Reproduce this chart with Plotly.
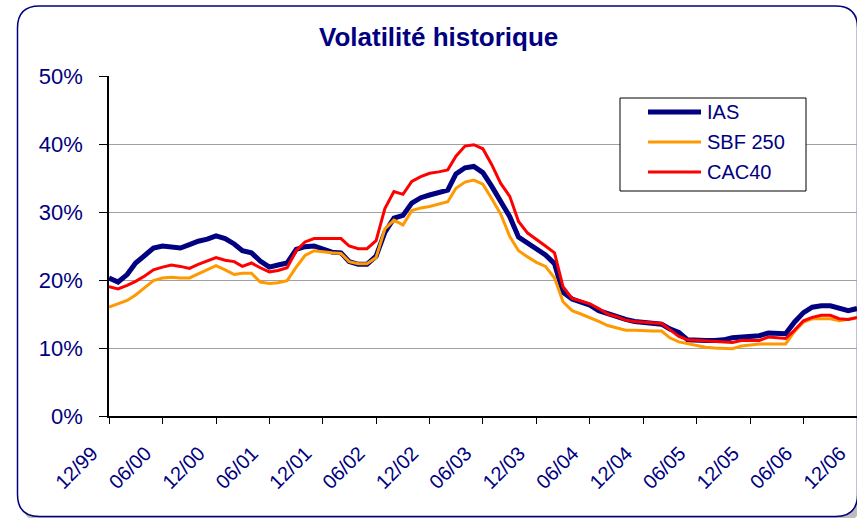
import pandas as pd
import plotly.graph_objects as go

# Monthly observation dates (first of each month, Dec 1999 -> Dec 2006)
dates = pd.date_range("1999-12-01", "2006-12-01", freq="MS")

ias = [20.3, 19.7, 20.8, 22.5, 23.6, 24.7, 25.0, 24.9, 24.7, 25.2, 25.7, 26.0, 26.5, 26.1, 25.3, 24.3,
       24.0, 22.8, 21.9, 22.2, 22.5, 24.5, 24.9, 25.0, 24.5, 24.1, 24.0, 22.7, 22.3, 22.3, 23.5, 27.0,
       29.1, 29.5, 31.3, 32.1, 32.5, 32.9, 33.2, 35.6, 36.5, 36.7, 35.8, 33.8, 31.5, 29.3, 26.3, 25.4,
       24.6, 23.7, 22.4, 18.2, 17.2, 16.8, 16.3, 15.5, 15.0, 14.6, 14.2, 13.9, 13.8, 13.7, 13.5, 12.8,
       12.3, 11.2, 11.1, 11.1, 11.1, 11.2, 11.5, 11.6, 11.8, 11.8, 12.2, 12.2, 12.1, 13.8, 15.2, 16.0,
       16.2, 16.2, 15.8, 15.5, 15.8]

sbf250 = [16.0, 16.5, 17.0, 17.8, 18.9, 19.9, 20.3, 20.4, 20.3, 20.3, 20.9, 21.5, 22.1, 21.5, 20.8, 21.0,
          21.0, 19.7, 19.5, 19.6, 19.9, 21.9, 23.6, 24.3, 24.1, 24.0, 23.9, 22.7, 22.4, 22.4, 23.3, 27.5,
          28.8, 28.1, 30.2, 30.6, 30.8, 31.1, 31.5, 33.5, 34.4, 34.7, 34.1, 32.0, 29.7, 26.4, 24.3, 23.4,
          22.6, 22.0, 20.3, 16.8, 15.5, 15.0, 14.5, 13.9, 13.3, 12.9, 12.6, 12.6, 12.5, 12.5, 12.5, 11.5,
          10.9, 10.6, 10.4, 10.1, 10.0, 9.9, 9.9, 10.3, 10.5, 10.6, 10.6, 10.6, 10.6, 12.4, 13.8, 14.3,
          14.3, 14.3, 14.0, 14.2, 14.4]

cac40 = [19.0, 18.7, 19.2, 19.8, 20.6, 21.5, 21.9, 22.2, 22.0, 21.7, 22.3, 22.8, 23.3, 22.9, 22.7, 22.0,
         22.5, 21.8, 21.2, 21.4, 21.8, 24.3, 25.6, 26.1, 26.1, 26.1, 26.1, 25.0, 24.6, 24.6, 25.8, 30.5,
         33.0, 32.6, 34.5, 35.2, 35.7, 35.9, 36.2, 38.2, 39.7, 39.9, 39.3, 37.0, 34.2, 32.3, 28.6, 26.9,
         26.0, 25.0, 24.0, 19.0, 17.3, 16.9, 16.5, 15.8, 15.0, 14.6, 14.1, 13.9, 13.8, 13.7, 13.6, 12.7,
         11.7, 11.2, 11.1, 11.0, 10.9, 10.8, 10.8, 11.1, 11.1, 11.1, 11.6, 11.5, 11.4, 12.6, 14.0, 14.5,
         14.8, 14.8, 14.3, 14.2, 14.5]

series_names = ["IAS", "SBF 250", "CAC40"]

tick_dates = ["1999-12-01", "2000-06-01", "2000-12-01", "2001-06-01", "2001-12-01", "2002-06-01",
              "2002-12-01", "2003-06-01", "2003-12-01", "2004-06-01", "2004-12-01", "2005-06-01",
              "2005-12-01", "2006-06-01", "2006-12-01"]
tick_labels = ["12/99", "06/00", "12/00", "06/01", "12/01", "06/02", "12/02", "06/03", "12/03",
               "06/04", "12/04", "06/05", "12/05", "06/06", "12/06"]

y_tickvals = [0, 10, 20, 30, 40, 50]
y_ticklabels = ["0%", "10%", "20%", "30%", "40%", "50%"]

NAVY = "#000080"
ORANGE = "#FF9900"
RED = "#FF0000"
FONT = "Liberation Sans, Arial, sans-serif"

W, H = 857, 518
ML, MR, MT, MB = 109, 0, 76, 102
PW, PH = W - ML - MR, H - MT - MB


def px(x):
    return (x - ML) / PW


def py(y):
    return (H - MB - y) / PH


def rounded(x0, y0, x1, y1, r):
    return (f"M {px(x0 + r)} {py(y0)} L {px(x1 - r)} {py(y0)} Q {px(x1)} {py(y0)} {px(x1)} {py(y0 + r)} "
            f"L {px(x1)} {py(y1 - r)} Q {px(x1)} {py(y1)} {px(x1 - r)} {py(y1)} "
            f"L {px(x0 + r)} {py(y1)} Q {px(x0)} {py(y1)} {px(x0)} {py(y1 - r)} "
            f"L {px(x0)} {py(y0 + r)} Q {px(x0)} {py(y0)} {px(x0 + r)} {py(y0)} Z")


fig = go.Figure()
styles = [(ias, NAVY, 5), (sbf250, ORANGE, 3), (cac40, RED, 3)]
for (vals, col, w), name in zip(styles, series_names):
    fig.add_trace(go.Scatter(x=dates, y=vals, mode="lines", name=name,
                             line=dict(color=col, width=w), showlegend=False))

shapes = []
# shadow + outer rounded frame
shapes.append(dict(type="path", xref="paper", yref="paper", path=rounded(21.5, 10, 862, 522, 22),
                   line=dict(width=0), fillcolor="#BDBDBD", layer="below"))
shapes.append(dict(type="path", xref="paper", yref="paper", path=rounded(17.5, 6, 857.5, 516.5, 22),
                   line=dict(color=NAVY, width=1.5), fillcolor="white", layer="below"))

# legend box
shapes.append(dict(type="rect", xref="paper", yref="paper", x0=px(620), x1=px(806), y0=py(191), y1=py(98),
                   line=dict(color="black", width=1), fillcolor="white", layer="above"))
leg_y = [112, 142, 172]
annotations = []
for (vals, col, w), name, yy in zip(styles, series_names, leg_y):
    shapes.append(dict(type="line", xref="paper", yref="paper", x0=px(648), x1=px(701), y0=py(yy), y1=py(yy),
                       line=dict(color=col, width=w), layer="above"))
    annotations.append(dict(xref="paper", yref="paper", x=px(705), y=py(yy), text=name, showarrow=False,
                            xanchor="left", yanchor="middle", font=dict(family=FONT, size=20, color=NAVY)))

annotations.append(dict(xref="paper", yref="paper", x=px(438), y=py(37), text="Volatilité historique",
                        showarrow=False, xanchor="center", yanchor="middle",
                        font=dict(family=FONT, size=26, color=NAVY, weight="bold")))

fig.update_layout(
    width=W, height=H,
    margin=dict(l=ML, r=MR, t=MT, b=MB),
    paper_bgcolor="white", plot_bgcolor="rgba(0,0,0,0)",
    shapes=shapes, annotations=annotations,
    xaxis=dict(type="date", range=["1999-12-01", "2006-12-01"], tickvals=tick_dates, ticktext=tick_labels,
               tickangle=-45, ticks="outside", ticklen=6, tickcolor="black", showgrid=False,
               showline=True, linecolor="black", linewidth=1.5, zeroline=False,
               ticklabelstandoff=10, ticklabelshift=-17,
               tickfont=dict(family=FONT, size=20, color=NAVY)),
    yaxis=dict(range=[0, 50], tickvals=y_tickvals, ticktext=y_ticklabels, ticks="outside", ticklen=8,
               tickcolor="black", showgrid=True, gridcolor="#A0A0A0", gridwidth=1,
               showline=True, linecolor="black", linewidth=1.5, zeroline=False, ticklabelstandoff=12,
               tickfont=dict(family=FONT, size=22, color=NAVY)),
)

fig.write_html("out.html", config={"displayModeBar": False},
               post_script="document.body.style.margin='0';document.body.style.overflow='hidden';")
